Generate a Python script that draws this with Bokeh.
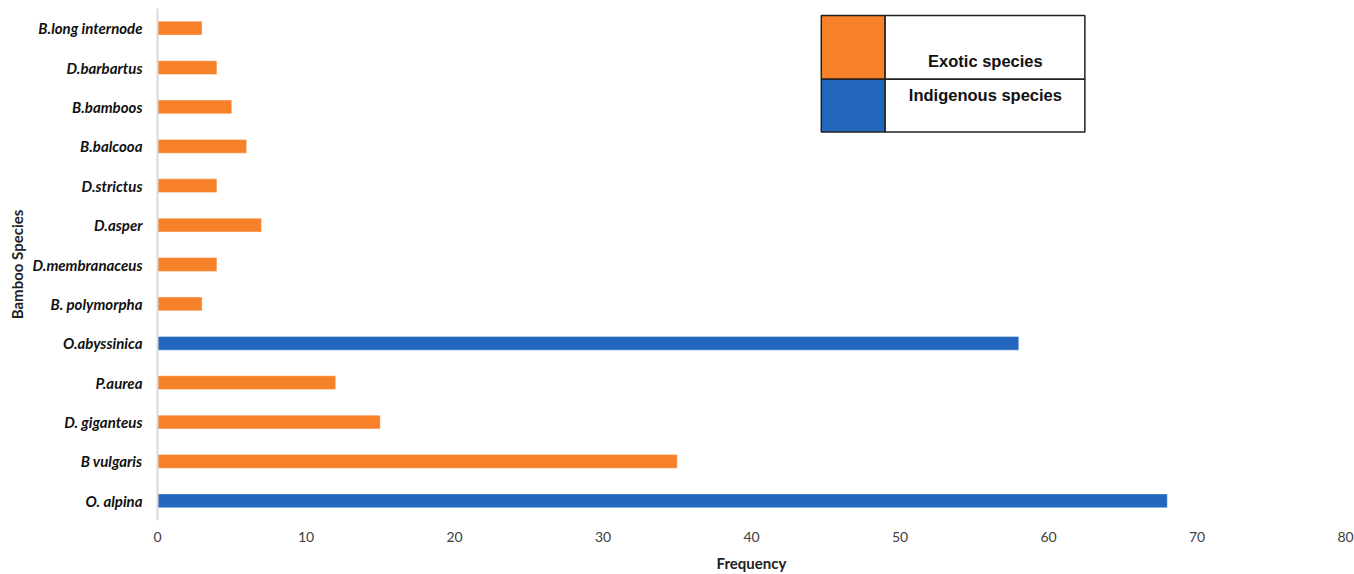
from bokeh.plotting import figure
from bokeh.models import FactorRange, Range1d, ColumnDataSource
from bokeh.core.properties import value
from bokeh.embed import file_html
from bokeh.resources import INLINE

species = ["O. alpina", "B vulgaris", "D. giganteus", "P.aurea", "O.abyssinica",
           "B. polymorpha", "D.membranaceus", "D.asper", "D.strictus", "B.balcooa",
           "B.bamboos", "D.barbartus", "B.long internode"]
frequency = [68, 35, 15, 12, 58, 3, 4, 7, 4, 6, 5, 4, 3]
origin = ["Indigenous", "Exotic", "Exotic", "Exotic", "Indigenous",
          "Exotic", "Exotic", "Exotic", "Exotic", "Exotic", "Exotic", "Exotic", "Exotic"]
x_ticks = [0, 10, 20, 30, 40, 50, 60, 70, 80]
legend_labels = ["Exotic species", "Indigenous species"]

ORANGE = "#F68128"
BLUE = "#2467BF"
colors = [BLUE if o == "Indigenous" else ORANGE for o in origin]

src = ColumnDataSource(dict(species=species, frequency=frequency, color=colors))

p = figure(width=1354, height=574, output_backend="svg", toolbar_location=None,
           y_range=FactorRange(factors=species, range_padding=0),
           x_range=Range1d(0, 80),
           min_border_left=157, min_border_right=9, min_border_top=8, min_border_bottom=52)
p.outline_line_color = None
p.background_fill_color = "white"
p.border_fill_color = "white"

p.hbar(y="species", right="frequency", left=0, height=0.35, color="color",
       line_color="white", line_alpha=0.4, source=src)

# legend box drawn as a table (positions as offsets from the top category)
top_cat = species[-1]
lx0, lx1, lx2 = 44.7, 49.0, 62.45
ly_top, ly_mid, ly_bot = (top_cat, 0.323), (top_cat, -1.296), (top_cat, -2.636)
p.quad(left=[lx0, lx0], right=[lx1, lx1], top=[ly_top, ly_mid], bottom=[ly_mid, ly_bot],
       fill_color=[ORANGE, BLUE], line_color="#222222", line_width=1.5)
p.quad(left=[lx1, lx1], right=[lx2, lx2], top=[ly_top, ly_mid], bottom=[ly_mid, ly_bot],
       fill_color="white", line_color="#222222", line_width=1.5)
p.text(x=[55.75, 55.75], y=[(top_cat, -0.84), (top_cat, -1.69)], text=legend_labels,
       text_font=value("Liberation Sans"), text_font_style="bold", text_font_size="16.5px",
       text_align="center", text_baseline="middle", text_color="#111111")

p.xgrid.visible = False
p.ygrid.visible = False

xa = p.xaxis[0]
xa.ticker = x_ticks
xa.axis_line_color = None
xa.major_tick_line_color = None
xa.minor_tick_line_color = None
xa.major_tick_out = 0
xa.major_tick_in = 0
xa.major_label_text_font = "Lato"
xa.major_label_text_font_size = "14px"
xa.major_label_text_color = "#404040"
xa.major_label_standoff = 11
xa.axis_label = "Frequency"
xa.axis_label_text_font = "Lato"
xa.axis_label_text_font_style = "bold"
xa.axis_label_text_font_size = "15px"
xa.axis_label_text_color = "#222222"
xa.axis_label_standoff = 9

ya = p.yaxis[0]
ya.axis_line_color = "#D9D9D9"
ya.axis_line_width = 2
ya.major_tick_line_color = None
ya.minor_tick_line_color = None
ya.major_tick_out = 0
ya.major_tick_in = 0
ya.major_label_text_font = "Lato"
ya.major_label_text_font_style = "bold italic"
ya.major_label_text_font_size = "15px"
ya.major_label_text_color = "#111111"
ya.major_label_standoff = 15
ya.axis_label = "Bamboo Species"
ya.axis_label_text_font = "Lato"
ya.axis_label_text_font_style = "bold"
ya.axis_label_text_font_size = "15px"
ya.axis_label_text_color = "#222222"
ya.axis_label_standoff = 4

open("out.html", "w").write(file_html(p, INLINE))
